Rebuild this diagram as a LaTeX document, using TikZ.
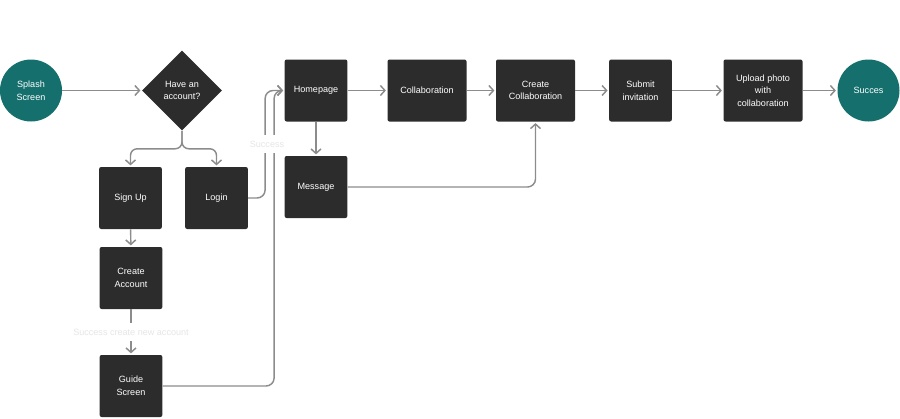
\documentclass[tikz,border=0pt]{standalone}
\usepackage{fontspec}
\setmainfont{Liberation Sans}
\usetikzlibrary{arrows.meta,shapes.geometric}
\definecolor{boxc}{HTML}{2C2C2C}
\definecolor{teal1}{HTML}{15706D}
\definecolor{linec}{HTML}{8C8C8C}
\definecolor{lblc}{HTML}{E6E6E6}
\begin{document}
\begin{tikzpicture}[x=0.75pt,y=-0.75pt,
 every node/.style={font=\fontsize{6.8}{9.5}\selectfont, text=white, align=center},
 box/.style={rectangle, fill=boxc, rounded corners=1.5pt, inner sep=0pt, minimum height=46.5pt},
 sbox/.style={box, minimum width=47pt},
 wbox/.style={box, minimum width=59.25pt},
 endc/.style={circle, fill=teal1, minimum size=46.5pt, inner sep=0pt},
 dec/.style={diamond, fill=boxc, minimum width=60pt, minimum height=60pt, inner sep=0pt},
 conn/.style={draw=linec, line width=1.1pt, shorten >=1pt, -{Straight Barb[length=3.4pt,width=7.5pt]}},
 lbl/.style={fill=white, text=lblc, inner xsep=1.5pt, inner ysep=4.5pt}
]
\useasboundingbox (0,0) rectangle (900,418);
\node[endc] (splash) at (31,90.5) {Splash\\Screen};
\node[dec] (acc) at (182,90.5) {Have an\\account?};
\node[sbox] (signup) at (130.5,198) {Sign Up};
\node[sbox] (login) at (216.5,198) {Login};
\node[sbox] (create) at (131,278) {Create\\Account};
\node[sbox] (guide) at (131,386) {Guide\\Screen};
\node[sbox] (home) at (316,90.5) {Homepage};
\node[sbox] (msg) at (316,187) {Message};
\node[wbox] (collab) at (427,90.5) {Collaboration};
\node[wbox] (ccollab) at (535.5,90.5) {Create\\Collaboration};
\node[sbox] (submit) at (640.5,90.5) {Submit\\invitation};
\node[wbox] (upload) at (763,90.5) {Upload photo\\with\\collaboration};
\node[endc] (succ) at (868.5,90.5) {Succes};

\draw[conn] (splash) -- (acc);
\draw[conn, rounded corners=5pt] (acc.south) -- ++(0,18) -| (signup.north);
\draw[conn, rounded corners=5pt] (acc.south) -- ++(0,18) -| (login.north);
\draw[conn] (signup) -- (create);
\draw[conn] (create) -- node[lbl] (lbl2) {Success create new account} (guide);
\draw[conn, rounded corners=6pt] (login.east) -- ++(17,0) |- (home.west);
\draw[conn, rounded corners=6pt] (guide.east) -- ++(111.5,0) |- (home.west);
\node[lbl] (lbl1) at (267,144) {Success};
\draw[conn] (home) -- (msg);
\draw[conn] (home) -- (collab);
\draw[conn] (collab) -- (ccollab);
\draw[conn, rounded corners=6pt] (msg.east) -| (ccollab.south);
\draw[conn] (ccollab) -- (submit);
\draw[conn] (submit) -- (upload);
\draw[conn] (upload) -- (succ);
\end{tikzpicture}
\end{document}
